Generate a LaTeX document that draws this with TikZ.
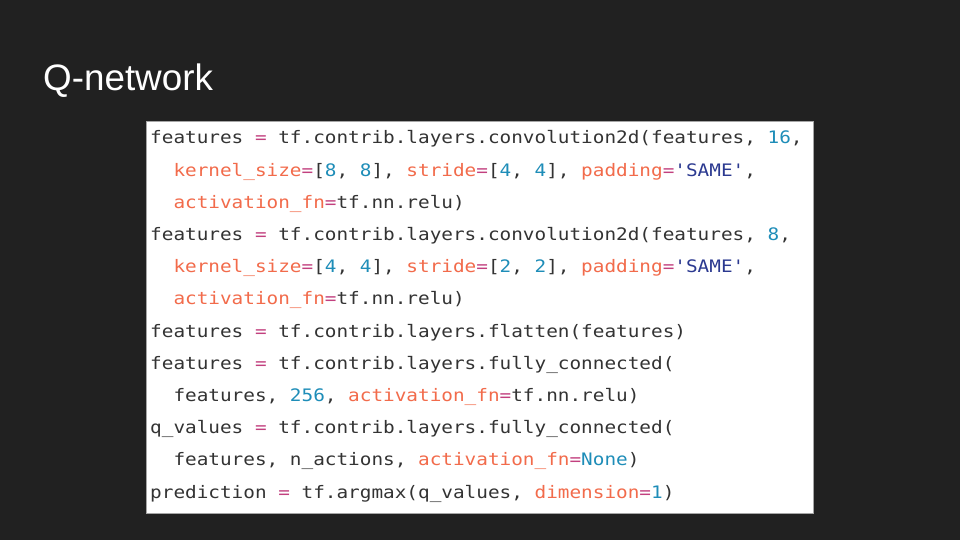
\documentclass[tikz,border=0pt]{standalone}
\usepackage{fontspec}
\setmainfont{Liberation Sans}
\newfontfamily\codefont[FakeStretch=1.125]{DejaVu Sans Mono}
\definecolor{bgc}{HTML}{212121}
\definecolor{codetext}{HTML}{333333}
\definecolor{kwc}{HTML}{F26B4B}
\definecolor{eqc}{HTML}{C2407F}
\definecolor{numc}{HTML}{1E8DB8}
\definecolor{strc}{HTML}{2B3990}
\newcommand{\kw}[1]{\textcolor{kwc}{#1}}
\newcommand{\eqs}{\textcolor{eqc}{=}}
\newcommand{\nm}[1]{\textcolor{numc}{#1}}
\newcommand{\st}[1]{\textcolor{strc}{#1}}
\newcommand{\sq}{\char"0027\relax}
\tikzset{
  codeline/.style={anchor=base west, inner sep=0pt, text=codetext, font=\codefont\fontsize{17.2pt}{17.2pt}\selectfont},
  titletext/.style={anchor=base west, inner sep=0pt, text=white, font=\fontsize{36.8pt}{36.8pt}\selectfont},
  codebox/.style={fill=white, draw=black!35, line width=0.6pt}
}
\begin{document}
\begin{tikzpicture}[x=1pt,y=1pt]
\fill[bgc] (0,0) rectangle (960,-540);
\useasboundingbox (0,0) rectangle (960,-540);
\node[titletext] (title) at (43,-91) {Q-network};
\draw[codebox] (146,-121) rectangle (813,-513);
\node[codeline] (l1) at (150,-143.8) {features \eqs{} tf.contrib.layers.convolution2d(features, \nm{16},};
\node[codeline] (l2) at (150,-176.0) {\ \ \kw{kernel\_size}\eqs[\nm{8}, \nm{8}], \kw{stride}\eqs[\nm{4}, \nm{4}], \kw{padding}\eqs\st{\sq SAME\sq},};
\node[codeline] (l3) at (150,-208.2) {\ \ \kw{activation\_fn}\eqs{}tf.nn.relu)};
\node[codeline] (l4) at (150,-240.4) {features \eqs{} tf.contrib.layers.convolution2d(features, \nm{8},};
\node[codeline] (l5) at (150,-272.6) {\ \ \kw{kernel\_size}\eqs[\nm{4}, \nm{4}], \kw{stride}\eqs[\nm{2}, \nm{2}], \kw{padding}\eqs\st{\sq SAME\sq},};
\node[codeline] (l6) at (150,-304.8) {\ \ \kw{activation\_fn}\eqs{}tf.nn.relu)};
\node[codeline] (l7) at (150,-337.0) {features \eqs{} tf.contrib.layers.flatten(features)};
\node[codeline] (l8) at (150,-369.2) {features \eqs{} tf.contrib.layers.fully\_connected(};
\node[codeline] (l9) at (150,-401.4) {\ \ features, \nm{256}, \kw{activation\_fn}\eqs{}tf.nn.relu)};
\node[codeline] (l10) at (150,-433.6) {q\_values \eqs{} tf.contrib.layers.fully\_connected(};
\node[codeline] (l11) at (150,-465.8) {\ \ features, n\_actions, \kw{activation\_fn}\eqs\nm{None})};
\node[codeline] (l12) at (150,-498.0) {prediction \eqs{} tf.argmax(q\_values, \kw{dimension}\eqs\nm{1})};
\end{tikzpicture}
\end{document}
